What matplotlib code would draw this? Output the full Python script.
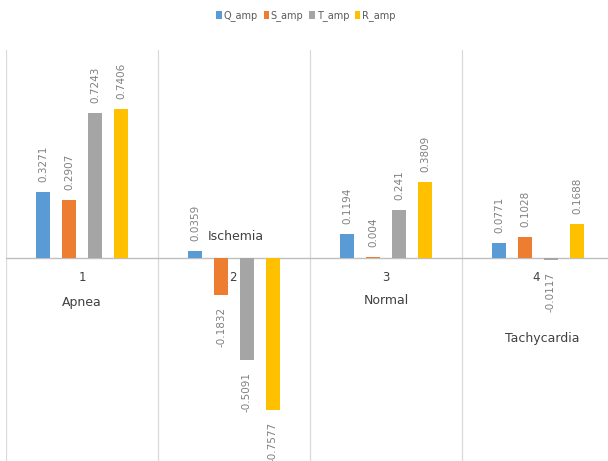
import numpy as np
import matplotlib
matplotlib.use('Agg')
import matplotlib.pyplot as plt

# data
groups = ['1', '2', '3', '4']
group_names = ['Apnea', 'Ischemia', 'Normal', 'Tachycardia']
series = ['Q_amp', 'S_amp', 'T_amp', 'R_amp']
q_amp = [0.3271, 0.0359, 0.1194, 0.0771]
s_amp = [0.2907, -0.1832, 0.004, 0.1028]
t_amp = [0.7243, -0.5091, 0.241, -0.0117]
r_amp = [0.7406, -0.7577, 0.3809, 0.1688]
colors = ['#5B9BD5', '#ED7D31', '#A5A5A5', '#FFC000']

# where the group names sit (x index, y value)
name_pos = [(0.0, -0.22), (1.01, 0.105), (2.0, -0.214), (3.03, -0.40)]
num_pos = [(0.0, -0.095), (0.99, -0.095), (2.0, -0.095), (2.99, -0.095)]

fig = plt.figure(figsize=(6.08, 4.61), dpi=100)
ax = fig.add_axes([6 / 608, 0, 1.0, (461 - 50) / 461])

x = np.arange(len(groups))
width = 0.092
step = 0.171
values = [q_amp, s_amp, t_amp, r_amp]
for i, (name, vals, col) in enumerate(zip(series, values, colors)):
    off = (i - 1.5) * step
    ax.bar(x + off, vals, width, color=col, label=name, zorder=3)
    for xi, v in zip(x, vals):
        lab = f'{v:g}'
        if v >= 0:
            ax.text(xi + off, v + 0.05, lab, rotation=90, ha='center', va='bottom',
                    fontsize=7.5, color='#808080', clip_on=False)
        else:
            ax.text(xi + off, v - 0.06, lab, rotation=90, ha='center', va='top',
                    fontsize=7.5, color='#808080', clip_on=False)

for (nx, ny), lab in zip(num_pos, groups):
    ax.text(nx, ny, lab, ha='center', va='center', fontsize=8.5, color='#404040')
for (nx, ny), lab in zip(name_pos, group_names):
    ax.text(nx, ny, lab, ha='center', va='center', fontsize=9, color='#404040')

# category separators and zero line
for b in np.arange(-0.5, 4.0, 1.0):
    ax.axvline(b, color='#d9d9d9', lw=0.9, zorder=1)
ax.axhline(0, color='#bfbfbf', lw=1.0, zorder=2)

ax.set_xlim(-0.5, 3.5)
ax.set_ylim(-1.012, 1.037)
ax.axis('off')

leg = fig.legend(loc='center', bbox_to_anchor=(306 / 608, 1 - 16 / 461), ncol=4, frameon=False,
                 fontsize=7, handlelength=0.55, handleheight=0.8, handletextpad=0.2,
                 columnspacing=0.6)
for t in leg.get_texts():
    t.set_color('#595959')

fig.savefig('out.png', dpi=100)
